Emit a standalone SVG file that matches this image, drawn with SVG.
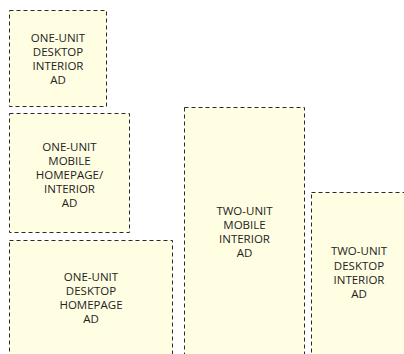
<svg xmlns="http://www.w3.org/2000/svg" width="404" height="354" viewBox="0 0 404 354">
<style>
.box{fill:#fffee3;stroke:#2a2a2a;stroke-width:1;stroke-dasharray:4 3}
.t{font-family:"Open Sans","Noto Sans","Liberation Sans",sans-serif;font-size:11.5px;fill:#222;text-anchor:middle}
</style>
<rect width="404" height="354" fill="#fff"/>
<g id="one-unit-desktop-interior">
<rect class="box" x="9.5" y="10.5" width="97" height="96"/>
<text class="t"><tspan x="58" y="41.5">ONE-UNIT</tspan><tspan x="58" y="55.5">DESKTOP</tspan><tspan x="58" y="70">INTERIOR</tspan><tspan x="58" y="84">AD</tspan></text>
</g>
<g id="one-unit-mobile">
<rect class="box" x="9.5" y="113.5" width="120" height="119"/>
<text class="t"><tspan x="69.5" y="150.5">ONE-UNIT</tspan><tspan x="69.5" y="164.5">MOBILE</tspan><tspan x="69.5" y="178.5">HOMEPAGE/</tspan><tspan x="69.5" y="192.8">INTERIOR</tspan><tspan x="69.5" y="207">AD</tspan></text>
</g>
<g id="one-unit-desktop-homepage">
<rect class="box" x="9.5" y="240.5" width="163" height="120"/>
<text class="t"><tspan x="91" y="281">ONE-UNIT</tspan><tspan x="91" y="295">DESKTOP</tspan><tspan x="91" y="309">HOMEPAGE</tspan><tspan x="91" y="323.3">AD</tspan></text>
</g>
<g id="two-unit-mobile-interior">
<rect class="box" x="184.5" y="107.5" width="120" height="260"/>
<text class="t"><tspan x="244.5" y="214.5">TWO-UNIT</tspan><tspan x="244.5" y="228.7">MOBILE</tspan><tspan x="244.5" y="243">INTERIOR</tspan><tspan x="244.5" y="257.2">AD</tspan></text>
</g>
<g id="two-unit-desktop-interior">
<rect class="box" x="311.5" y="192.5" width="96" height="180"/>
<text class="t"><tspan x="359" y="255.4">TWO-UNIT</tspan><tspan x="359" y="269.6">DESKTOP</tspan><tspan x="359" y="283.8">INTERIOR</tspan><tspan x="359" y="298">AD</tspan></text>
</g>
<g id="connectors"/>
</svg>
